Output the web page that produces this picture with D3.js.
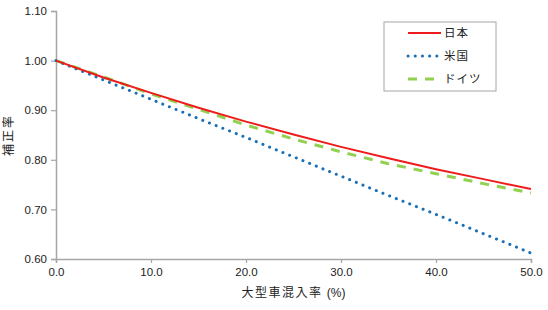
<!DOCTYPE html>
<html>
<head>
<meta charset="utf-8">
<script src="https://cdn.jsdelivr.net/npm/d3@7"></script>
<style>
  body { margin: 0; background: #fff; }
  svg text { font-family: "Liberation Sans", Arial, "Noto Sans CJK JP", sans-serif; fill: #222; }
  .jp { font-family: "Noto Sans CJK JP", sans-serif; }
</style>
</head>
<body>
<svg id="chart"></svg>
<script>
// mix rate (%) and correction factors
const mixRate = [0, 5, 10, 15, 20, 25, 30, 35, 40, 45, 50];
const japan = [1.000, 0.966, 0.935, 0.905, 0.877, 0.851, 0.826, 0.803, 0.781, 0.761, 0.741];
const usa = [1.000, 0.961, 0.922, 0.883, 0.845, 0.806, 0.767, 0.728, 0.690, 0.651, 0.612];
const germany = [1.000, 0.967, 0.933, 0.902, 0.870, 0.842, 0.816, 0.792, 0.772, 0.752, 0.733];
const seriesNames = ["日本", "米国", "ドイツ"];
const xTicks = [0, 10, 20, 30, 40, 50];
const yTicks = [0.6, 0.7, 0.8, 0.9, 1.0, 1.1];

const width = 548, height = 310;
const margin = { top: 11, right: 17, bottom: 51, left: 56 };

const svg = d3.select("#chart")
  .attr("width", width)
  .attr("height", height);

const x = d3.scaleLinear().domain([0, 50]).range([margin.left, width - margin.right]);
const y = d3.scaleLinear().domain([0.6, 1.1]).range([height - margin.bottom, margin.top]);

// axes
const xAxis = svg.append("g")
  .attr("transform", `translate(0,${y(0.6)})`)
  .call(d3.axisBottom(x).tickValues(xTicks).tickFormat(d3.format(".1f")).tickSizeOuter(0).tickSize(4));
const yAxis = svg.append("g")
  .attr("transform", `translate(${x(0)},0)`)
  .call(d3.axisLeft(y).tickValues(yTicks).tickFormat(d3.format(".2f")).tickSizeOuter(0).tickSize(5));

[xAxis, yAxis].forEach(a => {
  a.select(".domain").attr("stroke", "#a6a6a6").attr("stroke-width", 1.5);
  a.selectAll(".tick line").attr("stroke", "#a6a6a6").attr("stroke-width", 1.2);
  a.selectAll(".tick text").style("font-size", "11.5px").attr("fill", "#222");
});
xAxis.selectAll(".tick text").attr("dy", "0.9em");
yAxis.selectAll(".tick text").attr("dx", "-1px");

// axis titles
const xTitle = svg.append("text")
  .attr("x", (x(0) + x(50)) / 2)
  .attr("y", 297)
  .attr("text-anchor", "middle")
  .style("font-size", "12px");
xTitle.append("tspan")
  .attr("class", "jp")
  .style("letter-spacing", "1.5px")
  .text("大型車混入率 ");
xTitle.append("tspan")
  .text("(%)");

svg.append("text")
  .attr("class", "jp")
  .attr("transform", `translate(13,${(y(0.6) + y(1.1)) / 2}) rotate(-90)`)
  .attr("text-anchor", "middle")
  .style("font-size", "12px")
  .style("letter-spacing", "2px")
  .text("補正率");

// series
const styles = [
  { color: "#ee1c1c", width: 2, dash: null, cap: "butt" },
  { color: "#1a6fb5", width: 3, dash: "0.1,7.1", cap: "round" },
  { color: "#92d050", width: 3, dash: "9,8", cap: "butt" }
];
const allSeries = [japan, usa, germany];

const line = d3.line()
  .x((d, i) => x(mixRate[i]))
  .y(d => y(d));

// draw germany, usa, then japan on top
[2, 1, 0].forEach(k => {
  svg.append("path")
    .datum(allSeries[k])
    .attr("fill", "none")
    .attr("stroke", styles[k].color)
    .attr("stroke-width", styles[k].width)
    .attr("stroke-linecap", styles[k].cap)
    .attr("stroke-dasharray", styles[k].dash)
    .attr("d", line);
});

// legend
const legend = svg.append("g").attr("transform", "translate(384,22)");
legend.append("rect")
  .attr("width", 112)
  .attr("height", 69)
  .attr("fill", "#fff")
  .attr("stroke", "#a6a6a6")
  .attr("stroke-width", 1);

seriesNames.forEach((name, k) => {
  const ly = 11 + k * 23;
  legend.append("line")
    .attr("x1", 24).attr("x2", 57)
    .attr("y1", ly).attr("y2", ly)
    .attr("stroke", styles[k].color)
    .attr("stroke-width", styles[k].width)
    .attr("stroke-linecap", styles[k].cap)
    .attr("stroke-dasharray", styles[k].dash);
  legend.append("text")
    .attr("class", "jp")
    .attr("x", 60)
    .attr("y", ly)
    .attr("dy", "0.35em")
    .style("font-size", "11.5px")
    .style("letter-spacing", "1px")
    .text(name);
});
</script>
</body>
</html>
